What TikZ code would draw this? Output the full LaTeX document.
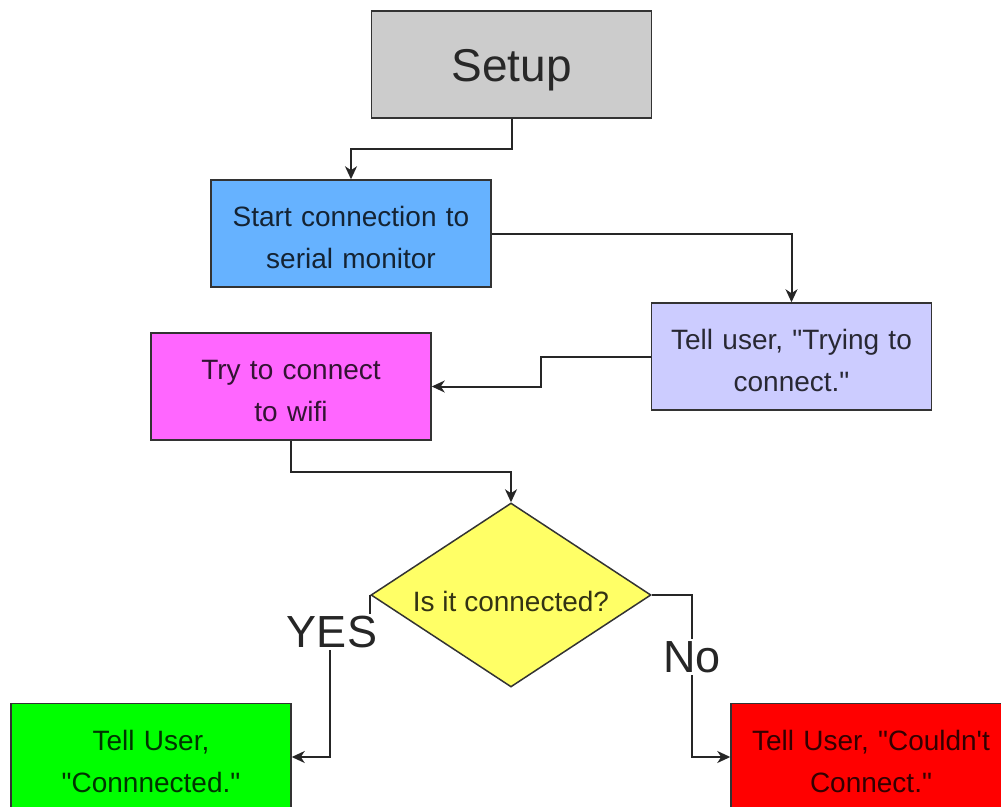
\documentclass[tikz,border=0pt]{standalone}
\usepackage{fontspec}
\setmainfont{Liberation Sans}[Ligatures=TeXOff]
\usetikzlibrary{shapes.geometric,arrows.meta}
\definecolor{cgray}{HTML}{CCCCCC}
\definecolor{cblue}{HTML}{66B2FF}
\definecolor{clav}{HTML}{CCCCFF}
\definecolor{cmag}{HTML}{FF66FF}
\definecolor{cyel}{HTML}{FFFF66}
\definecolor{cgreen}{HTML}{00FF00}
\definecolor{cred}{HTML}{FF0000}
\definecolor{cedge}{HTML}{333333}
\tikzset{
  box/.style={draw=cedge, line width=1.5pt, minimum width=280pt, minimum height=107pt,
    inner sep=0pt, align=center, text width=274pt, text=black, text opacity=0.8,
    font=\fontsize{28}{42}\selectfont, execute at begin node={\rule{0pt}{29pt}}},
  lbl/.style={fill=white, inner sep=2pt, font=\fontsize{45}{50}\selectfont, text=black!85},
  conn/.style={draw=black!85, line width=2pt, -{Stealth[length=13pt,width=12pt,inset=4pt]}}
}
\begin{document}
\begin{tikzpicture}[x=1pt,y=-1pt]
\useasboundingbox (0,0) rectangle (1001,806);
\clip (0,0) rectangle (1001,806);
\node[box, fill=cgray, font=\fontsize{46}{50}\selectfont, execute at begin node={\rule{0pt}{44pt}}] (setup) at (511.5,64.5) {Setup};
\node[box, fill=cblue] (start) at (351,233.5) {Start connection to\\serial monitor};
\node[box, fill=clav] (trying) at (791.5,356.5) {Tell user, "Trying to\\connect."};
\node[box, fill=cmag] (try) at (291,386.5) {Try to connect\\to wifi};
\node[diamond, draw=cedge, line width=1.5pt, fill=cyel, minimum width=280pt, minimum height=184pt, inner sep=0pt] (dec) at (511,595) {};
\node[text=black, text opacity=0.8, font=\fontsize{28}{30}\selectfont, yshift=-6pt] (dectext) at (dec.center) {Is it connected?};
\node[box, fill=cgreen] (green) at (151,757) {Tell User,\\"Connnected."};
\node[box, fill=cred] (red) at (871,757) {Tell User, "Couldn't\\Connect."};
\draw[conn] (setup.south) -- ++(0,30) -| (start.north);
\draw[conn] (start.east) -| (trying.north);
\draw[conn] (trying.west) -- ++(-110,0) |- (try.east);
\draw[conn] (try.south) -- ++(0,31) -| (dec.north);
\draw[conn] (dec.west) -- ++(0,37) -- ++(-40,0) |- (green.east);
\draw[conn] (dec.east) -- ++(40,0) |- (red.west);
\node[lbl] (yes) at (332,632) {YES};
\node[lbl] (no) at (692,657) {No};
\end{tikzpicture}
\end{document}
